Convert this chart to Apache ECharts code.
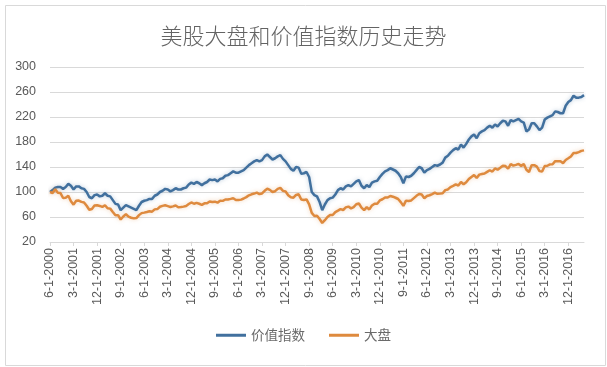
<!DOCTYPE html>
<html>
<head>
<meta charset="utf-8">
<script src="https://cdn.jsdelivr.net/npm/echarts@6/dist/echarts.min.js"></script>
<style>
html,body{margin:0;padding:0;background:#fff;}
#c{width:607px;height:367px;}
</style>
</head>
<body>
<div id="c"></div>
<script>
// Monthly series, Jun 2000 .. Jun 2017 (205 points), labels M-1-YYYY
const startYear = 2000;
const startMonth = 6;
const pointCount = 205;

const valueIndex = [
100,103,107,108,108,105,108,113,110,104,109,109,106,105,100,92,90,95,96,93,
94,98,94,93,87,81,80,71,75,79,77,75,73,71,78,84,86,87,89,89,
94,96,100,102,105,104,101,103,106,104,104,106,107,112,115,113,116,114,111,114,
116,120,119,120,117,121,122,126,127,130,133,131,131,133,135,139,143,146,149,151,
149,151,157,160,156,152,154,157,159,153,149,143,137,134,140,139,129,130,132,124,
100,95,93,84,71,80,87,90,91,96,103,106,104,109,111,109,113,117,119,110,
106,111,108,115,117,118,124,129,133,135,138,136,134,130,124,114,125,124,126,130,
135,140,138,131,135,137,140,143,142,144,147,155,158,163,167,170,168,176,171,177,
184,189,192,186,194,197,199,203,206,203,208,205,210,214,213,206,215,213,215,217,
213,211,197,200,210,210,205,199,203,216,219,221,223,229,228,226,226,238,244,247,
254,251,251,252,255
];

const largeCap = [
100.0,98.4,104.3,98.8,98.3,90.4,90.8,93.9,85.2,79.8,85.9,86.3,84.2,83.3,77.9,71.6,72.9,78.3,78.9,77.7,
76.1,78.9,74.0,73.4,68.0,62.7,63.0,56.0,60.9,64.4,60.5,58.8,57.8,58.3,63.0,66.2,67.0,68.1,69.3,68.5,
72.2,72.7,76.4,77.8,78.7,77.4,76.1,77.0,78.4,75.7,75.9,76.6,77.7,80.7,83.3,81.2,82.7,81.2,79.5,81.9,
81.9,84.8,83.9,84.5,83.0,85.9,85.8,88.0,88.0,89.0,90.1,87.3,87.3,87.8,89.6,91.8,94.7,96.3,97.5,98.9,
96.7,97.7,101.9,105.2,103.4,100.0,101.3,105.0,106.5,101.8,100.9,94.8,91.5,90.9,95.3,96.3,88.0,87.1,88.2,80.2,
66.6,61.6,62.1,56.8,50.5,54.9,60.0,63.2,63.2,67.9,70.2,72.7,71.2,75.3,76.7,73.8,75.9,80.4,81.6,74.9,
70.9,75.7,72.1,78.5,81.3,81.2,86.5,88.4,91.2,91.1,93.7,92.5,90.8,88.8,83.8,77.8,86.2,85.7,86.5,90.2,
93.9,96.8,96.1,90.1,93.6,94.8,96.7,99.0,97.1,97.4,98.0,103.0,104.1,107.9,109.8,112.1,110.4,115.9,112.3,115.6,
120.8,124.1,127.1,122.5,127.8,128.7,129.5,132.2,134.8,132.7,137.7,135.6,138.7,142.1,141.5,137.2,144.7,142.2,143.4,144.9,
141.8,144.6,135.6,132.0,143.0,143.0,140.5,133.4,132.8,141.6,142.0,144.2,144.3,149.4,149.2,149.1,146.2,151.2,153.9,156.7,
162.5,162.4,163.9,165.8,166.6
];

const yTicks = [20, 60, 100, 140, 180, 220, 260, 300];
const seriesNames = ['价值指数', '大盘'];
const titleText = '美股大盘和价值指数历史走势';

const categories = [];
for (let i = 0; i < pointCount; i++) {
  const t = (startMonth - 1) + i;
  const y = startYear + Math.floor(t / 12);
  const m = (t % 12) + 1;
  categories.push(m + '-1-' + y);
}

const chart = echarts.init(document.getElementById('c'), null, {renderer: 'canvas'});
const font = '"Noto Sans CJK SC", "Noto Sans", sans-serif';
chart.setOption({
  backgroundColor: '#fff',
  animation: false,
  graphic: [{
    type: 'rect', left: 3, top: 3,
    shape: {width: 600, height: 360},
    style: {fill: 'none', stroke: '#d9d9d9', lineWidth: 1},
    silent: true
  }],
  title: {
    text: titleText,
    left: 'center',
    top: 20,
    textStyle: {fontFamily: font, fontSize: 22, fontWeight: 300, color: '#636363'}
  },
  legend: {
    bottom: 20,
    left: 'center',
    itemWidth: 30,
    itemHeight: 3,
    itemGap: 24,
    icon: 'rect',
    textStyle: {fontFamily: font, fontSize: 13.5, color: '#6a6a6a'},
    data: seriesNames
  },
  grid: {left: 50, right: 23, top: 67, bottom: 125, containLabel: false},
  xAxis: {
    type: 'category',
    data: categories,
    boundaryGap: false,
    axisLine: {lineStyle: {color: '#d9d9d9'}},
    axisTick: {interval: 8, length: 4, lineStyle: {color: '#d9d9d9'}},
    axisLabel: {interval: 8, rotate: 90, fontFamily: '"Liberation Sans", Arial, sans-serif', fontSize: 12.5, color: '#595959', margin: 6}
  },
  yAxis: {
    type: 'value',
    min: yTicks[0],
    max: yTicks[yTicks.length - 1],
    interval: yTicks[1] - yTicks[0],
    axisLine: {show: false},
    axisTick: {show: false},
    splitLine: {lineStyle: {color: '#d9d9d9', width: 1}},
    axisLabel: {fontFamily: '"Liberation Sans", Arial, sans-serif', fontSize: 12.5, color: '#595959', margin: 14}
  },
  series: [
    {
      name: seriesNames[0], type: 'line', data: valueIndex, showSymbol: false, symbol: 'none',
      lineStyle: {color: '#41709E', width: 2.5, shadowColor: 'rgba(65,112,158,0.35)', shadowBlur: 4},
      itemStyle: {color: '#41709E'}
    },
    {
      name: seriesNames[1], type: 'line', data: largeCap, showSymbol: false, symbol: 'none',
      lineStyle: {color: '#DE8A3E', width: 2.5, shadowColor: 'rgba(222,138,62,0.35)', shadowBlur: 4},
      itemStyle: {color: '#DE8A3E'}
    }
  ]
});
</script>
</body>
</html>
